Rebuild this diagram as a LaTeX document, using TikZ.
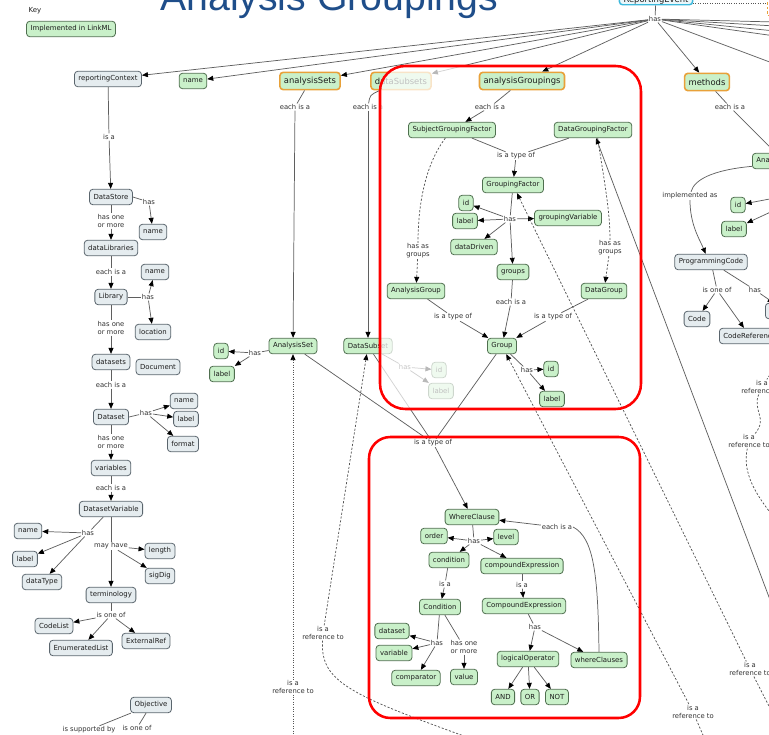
\documentclass[tikz,border=0pt]{standalone}
\usepackage{fontspec}
\usetikzlibrary{arrows.meta}
\newfontfamily\dv{DejaVu Sans}
\newfontfamily\lsans{Liberation Sans}
\definecolor{gfill}{HTML}{C9F0C9}
\definecolor{gbord}{HTML}{4F6F4F}
\definecolor{bfill}{HTML}{E5ECEF}
\definecolor{bbord}{HTML}{5A656D}
\definecolor{obord}{HTML}{E8A13A}
\definecolor{cyb}{HTML}{3DB9DC}
\definecolor{cyf}{HTML}{EAF7FB}
\definecolor{txt}{HTML}{1C1C1C}
\definecolor{lbt}{HTML}{333333}
\definecolor{lnc}{HTML}{5F5F5F}
\definecolor{dshc}{HTML}{555555}
\definecolor{ttl}{HTML}{1F4E8A}
\definecolor{boxred}{HTML}{FF0000}
\begin{document}
\begin{tikzpicture}[x=0.75pt,y=-0.75pt,
 nbase/.style={rounded corners=2.5pt, inner xsep=3pt, inner ysep=0pt, minimum height=11.6pt, line width=0.6pt, text=txt, font=\dv\fontsize{5.2}{6}\selectfont},
 gn/.style={nbase, draw=gbord, fill=gfill},
 bn/.style={nbase, draw=bbord, fill=bfill},
 on/.style={nbase, draw=obord, fill=gfill, line width=1.2pt, minimum height=13pt, font=\dv\fontsize{6.3}{7}\selectfont},
 lb/.style={font=\dv\fontsize{5.1}{6}\selectfont, text=lbt, inner sep=0.5pt, fill=white, align=center},
 ln/.style={draw=lnc, line width=0.55pt},
 ar/.style={ln, -{Triangle[length=4.5pt,width=3.7pt,color=black]}},
 dsh/.style={draw=dshc, line width=0.55pt, dash pattern=on 1.6pt off 1.3pt},
 dt/.style={draw=dshc, line width=0.6pt, dash pattern=on 0.6pt off 1.2pt},
 tipend/.style={-{Triangle[length=4.5pt,width=3.7pt,color=black]}},
 tipstart/.style={{Triangle[length=4.5pt,width=3.7pt,color=black]}-},
 redbox/.style={draw=boxred, line width=1.9pt},
]
\useasboundingbox (0,0) rectangle (769,735);
\clip (0,0) rectangle (769,735);

% ---------- title and key ----------
\node[anchor=base west, inner sep=0, font=\lsans\fontsize{29.4}{30}\selectfont, text=ttl] (title) at (160,11) {Analysis Groupings};
\node[font=\dv\fontsize{5.2}{6}\selectfont, text=txt, inner sep=0] (key) at (35,11) {Key};
\node[gn] (impl) at (71,29) {Implemented in LinkML};

% ---------- top ----------
\node[rounded corners=2.5pt, draw=cyb, fill=cyf, line width=1.1pt, inner xsep=3pt, inner ysep=0.6pt, text height=9pt, text depth=1.4pt, minimum width=55pt, text=txt, font=\dv\fontsize{6.3}{7}\selectfont, anchor=south] (RE) at (656,5.5) {ReportingEvent};
\node[draw=obord, dash pattern=on 2pt off 1.5pt, line width=0.8pt, minimum width=40pt, minimum height=14pt, anchor=west] (rbox) at (767,6) {};
\coordinate (rEnd) at (767,3);
\coordinate (reR) at (693,3);
\draw[dt] (reR) -- (rEnd);
\node[lb] (hasRE) at (655,19) {has};
\draw[ln] (RE) -- (hasRE);

% ---------- left column ----------
\node[bn] (rc) at (108,79) {reportingContext};
\node[gn] (nm1) at (193,81) {name};
\node[on] (aSets) at (310,81) {analysisSets};
\node[on] (meth) at (707,82) {methods};
\node[bn] (DSt) at (111,197) {DataStore};
\node[bn] (nm2) at (153,232) {name};
\node[bn] (dLib) at (111,248) {dataLibraries};
\node[bn] (Lib) at (111,297) {Library};
\node[bn] (nm3) at (155,272) {name};
\node[bn] (loc) at (153,332) {location};
\node[bn] (dsets) at (111,362) {datasets};
\node[bn] (doc) at (158,367) {Document};
\node[bn] (Dset) at (111,417) {Dataset};
\node[bn] (nm4) at (184,401) {name};
\node[bn] (lb4) at (186,419) {label};
\node[bn] (fmt) at (183,444) {format};
\node[bn] (vars) at (111,468) {variables};
\node[bn] (DVar) at (111,509) {DatasetVariable};
\node[bn] (nm5) at (28,531) {name};
\node[bn] (lb5) at (25,559) {label};
\node[bn] (dtype) at (42,582) {dataType};
\node[bn] (len) at (160,551) {length};
\node[bn] (sig) at (160,576) {sigDig};
\node[bn] (term) at (111,595) {terminology};
\node[bn] (CL) at (54,626) {CodeList};
\node[bn] (EL) at (81,648) {EnumeratedList};
\node[bn] (ER) at (146,641) {ExternalRef};
\node[bn] (Obj) at (151,705) {Objective};

\node[lb] (lisa1) at (109,137) {is a};
\node[lb] (lhas1) at (149,202) {has};
\node[lb] (lhom1) at (111,221) {has one\\or more};
\node[lb] (leia1) at (111,272) {each is a};
\node[lb] (lhas2) at (148,297) {has};
\node[lb] (lhom2) at (111,328) {has one\\or more};
\node[lb] (leia2) at (111,385) {each is a};
\node[lb] (lhas3) at (146,413) {has};
\node[lb] (lhom3) at (111,442) {has one\\or more};
\node[lb] (leia3) at (111,488) {each is a};
\node[lb] (lhas4) at (88,533) {has};
\node[lb] (lmay) at (111,546) {may have};
\node[lb] (liof1) at (111,615) {is one of};
\node[lb] (lisb) at (89,730) {is supported by};
\node[lb] (liof2) at (137,728) {is one of};

\draw[ln] (rc) -- (lisa1); \draw[ar] (lisa1) -- (DSt);
\draw[ln] (DSt.east) -- (lhas1); \draw[ar] (lhas1) -- (nm2);
\draw[ln] (DSt) -- (lhom1); \draw[ar] (lhom1) -- (dLib);
\draw[ln] (dLib) -- (leia1); \draw[ar] (leia1) -- (Lib);
\draw[ln] (Lib.east) -- (lhas2); \draw[ar] (lhas2) -- (nm3); \draw[ar] (lhas2) -- (loc);
\draw[ln] (Lib) -- (lhom2); \draw[ar] (lhom2) -- (dsets);
\draw[ln] (dsets) -- (leia2); \draw[ar] (leia2) -- (Dset);
\draw[ln] (Dset.east) -- (lhas3); \draw[ar] (lhas3) -- (nm4); \draw[ar] (lhas3) -- (lb4); \draw[ar] (lhas3) -- (fmt);
\draw[ln] (Dset) -- (lhom3); \draw[ar] (lhom3) -- (vars);
\draw[ln] (vars) -- (leia3); \draw[ar] (leia3) -- (DVar);
\draw[ln] (DVar) -- (lhas4); \draw[ar] (lhas4) -- (nm5); \draw[ar] (lhas4) -- (lb5); \draw[ar] (lhas4) -- (dtype);
\draw[ln] (DVar) -- (lmay); \draw[ar] (lmay) -- (len); \draw[ar] (lmay) -- (sig); \draw[ar] (lmay) -- (term);
\draw[ln] (term) -- (liof1); \draw[ar] (liof1) -- (CL); \draw[ar] (liof1) -- (EL); \draw[ar] (liof1) -- (ER);
\draw[ln] (Obj) -- (lisb); \draw[ln] (Obj) -- (liof2);

% ---------- middle (outside boxes) ----------
\node[gn] (ASet) at (293,346) {AnalysisSet};
\node[gn] (idAS) at (221,351) {id};
\node[gn] (lbAS) at (222,374) {label};
\node[lb] (lhasAS) at (255,353) {has};
\node[lb] (leiaS) at (295,107) {each is a};
\node[lb] (leiaD) at (368,107) {each is a};
\node[lb] (list) at (433,443) {is a type of};
\node[lb] (lrefAS) at (293,687) {is a\\reference to};
\node[lb] (lrefDS) at (323,633) {is a\\reference to};

% ---------- faded layer (under box 1) ----------
\node[on] (dSubs) at (401,81) {dataSubsets};
\node[gn] (DSub) at (368,346) {DataSubset};
\node[lb, fill=none] (lhasDS) at (405,367) {has};
\node[gn] (idDS) at (439,370) {id};
\node[gn] (lbDS) at (441,391) {label};
\draw[ar] (hasRE) -- (dSubs);
\draw[ln] (DSub) -- (lhasDS); \draw[ar] (lhasDS) -- (idDS); \draw[ar] (lhasDS) -- (lbDS);
\draw[ln] (DSub) -- (list);
\draw[ln] ([xshift=-16pt]dSubs.south) .. controls (370,95) .. (leiaD);
\draw[ar] (leiaD) -- (DSub);

% box 1 veil
\fill[white, fill opacity=0.72, rounded corners=19pt] (380,66) rectangle (641,409);

% ---------- group 1 ----------
\node[on] (aGrp) at (522,81) {analysisGroupings};
\node[lb] (leiaG) at (490,107) {each is a};
\node[gn] (SGF) at (452,130) {SubjectGroupingFactor};
\node[gn] (DGF) at (593,130) {DataGroupingFactor};
\node[lb] (list1) at (516,156) {is a type of};
\node[gn] (GF) at (513,185) {GroupingFactor};
\node[gn] (idGF) at (466,203) {id};
\node[gn] (lbGF) at (465,221) {label};
\node[gn] (dd) at (474,247) {dataDriven};
\node[gn] (gv) at (568,218) {groupingVariable};
\node[lb] (lhasGF) at (510,219) {has};
\node[gn] (grps) at (513,272) {groups};
\node[lb] (lhag1) at (418,251) {has as\\groups};
\node[lb] (lhag2) at (610,248) {has as\\groups};
\node[gn] (AG) at (416,291) {AnalysisGroup};
\node[gn] (DG) at (604,291) {DataGroup};
\node[lb] (leiaGr) at (511,302) {each is a};
\node[lb] (list2) at (453,317) {is a type of};
\node[lb] (list3) at (553,317) {is a type of};
\node[gn] (Grp) at (502,346) {Group};
\node[lb] (lhasGrp) at (527,370) {has};
\node[gn] (idGrp) at (551,369) {id};
\node[gn] (lbGrp) at (552,399) {label};

% ---------- group 2 ----------
\node[gn] (WC) at (472,517) {WhereClause};
\node[gn] (ord) at (434,536) {order};
\node[gn] (lev) at (506,537) {level};
\node[lb] (lhasWC) at (474,541) {has};
\node[gn] (cond) at (449,560) {condition};
\node[gn] (cExp) at (522,566) {compoundExpression};
\node[lb] (lisa2) at (445,584) {is a};
\node[lb] (lisa3) at (522,585) {is a};
\node[gn] (Cond) at (440,607) {Condition};
\node[gn] (CExp) at (524,606) {CompoundExpression};
\node[gn] (dset) at (392,631) {dataset};
\node[gn] (var) at (394,653) {variable};
\node[gn] (cmp) at (416,678) {comparator};
\node[gn] (val) at (464,677) {value};
\node[lb] (lhasC) at (437,643) {has};
\node[lb] (lhomC) at (464,647) {has one\\or more};
\node[lb] (lhasCE) at (535,627) {has};
\node[gn] (lop) at (528,659) {logicalOperator};
\node[gn] (wcs) at (599,660) {whereClauses};
\node[gn] (AND) at (503,697) {AND};
\node[gn] (OR) at (530,697) {OR};
\node[gn] (NOT) at (557,697) {NOT};
\node[lb] (leiaW) at (557,527) {each is a};

% ---------- right column ----------
\node[gn, anchor=west] (Ana) at (752,161) {AnalysisMethod};
\node[lb] (leiaM) at (730,107) {each is a};
\node[lb] (limpl) at (690,196) {implemented as};
\node[gn] (idM) at (738,205) {id};
\node[gn] (lbM) at (734,229) {label};
\node[bn] (PC) at (711,262) {ProgrammingCode};
\node[lb] (liofP) at (717,290) {is one of};
\node[lb] (lhasP) at (755,290) {has};
\node[bn] (Code) at (697,319) {Code};
\node[bn, anchor=west] (CR) at (719,336) {CodeReference};
\node[bn, anchor=west, minimum width=30pt] (rn) at (765,311) {};
\node[lb] (lref1) at (762,387) {is a\\reference to};
\node[lb] (lref2) at (749,441) {is a\\reference to};
\node[lb] (lref3) at (750,669) {is a\\reference to};
\node[lb] (lref4) at (693,712) {is a\\reference to};

% ---------- fan from ReportingEvent ----------
\draw[ar] (hasRE) -- (rc);
\draw[ar] (hasRE) -- (nm1);
\draw[ar] (hasRE) -- (aSets);
\draw[ar] (hasRE) -- (aGrp);
\draw[ar] (hasRE) -- (meth);
\coordinate (f1) at (775,22); \coordinate (f2) at (775,26);
\coordinate (f3) at (775,31); \coordinate (f4) at (775,36);
\coordinate (f5) at (775,64);
\foreach \f in {f1,f2,f3,f4,f5} { \draw[ln] (hasRE) -- (\f); }

% ---------- middle connectors ----------
\draw[ln] (aSets) -- (leiaS); \draw[ar] (leiaS) -- (ASet);
\draw[ln] (ASet) -- (lhasAS); \draw[ar] (lhasAS) -- (idAS); \draw[ar] (lhasAS) -- (lbAS);
\draw[ln] (ASet) -- (list);
\draw[ln] (Grp) -- (list);
\draw[ar] (list) -- (WC);
\draw[dt, tipstart] (ASet) -- (lrefAS);
\coordinate (dtEnd) at (293,745);
\draw[dt] (lrefAS) -- (dtEnd);
\draw[dsh, tipstart] (DSub) -- (lrefDS);
\coordinate (dsEnd) at (475,740);
\draw[dsh] (lrefDS) .. controls (320,682) and (350,695) .. (dsEnd);

% ---------- group 1 connectors ----------
\draw[ln] (aGrp) -- (leiaG); \draw[ar] (leiaG) -- (SGF);
\draw[ln] (SGF) -- (list1); \draw[ln] (DGF) -- (list1); \draw[ar] (list1) -- (GF);
\draw[ln] (GF) -- (lhasGF);
\draw[ar] (lhasGF) -- (idGF); \draw[ar] (lhasGF) -- (lbGF); \draw[ar] (lhasGF) -- (dd);
\draw[ar] (lhasGF) -- (gv); \draw[ar] (lhasGF) -- (grps);
\draw[dsh] ([xshift=-5pt]SGF.south) .. controls (425,165) and (418,205) .. (lhag1);
\draw[dsh, tipend] (lhag1) -- (AG);
\draw[dsh] ([xshift=3.5pt]DGF.south) .. controls (604,180) and (610,210) .. (lhag2);
\draw[dsh, tipend] (lhag2) -- (DG);
\draw[ln] (grps) -- (leiaGr); \draw[ar] (leiaGr) -- (Grp);
\draw[ln] (AG) -- (list2); \draw[ar] (list2) -- (Grp);
\draw[ln] (DG) -- (list3); \draw[ar] (list3) -- (Grp);
\draw[ln] (Grp) -- (lhasGrp); \draw[ar] (lhasGrp) -- (idGrp); \draw[ar] (lhasGrp) -- (lbGrp);

% long links from the right
\coordinate (dgfSrc) at (775,613);
\draw[ar] (dgfSrc) -- (DGF);
\draw[dsh, tipstart] (GF) -- (lref3);
\coordinate (r3End) at (772,712);
\draw[dsh] (lref3) -- (r3End);
\draw[dsh, tipstart] (Grp) -- (lref4);
\coordinate (r4End) at (706,742);
\draw[dsh] (lref4) -- (r4End);
\coordinate (r1Src) at (778,362);
\draw[dsh] (r1Src) -- (lref1);
\draw[dsh] (lref1) .. controls (752,410) and (768,418) .. (lref2);
\coordinate (r2End) at (778,522);
\draw[dsh] (lref2) .. controls (742,472) and (755,495) .. (r2End);

% ---------- group 2 connectors ----------
\draw[ln] (WC) -- (lhasWC);
\draw[ar] (lhasWC) -- (ord); \draw[ar] (lhasWC) -- (lev);
\draw[ar] (lhasWC) -- (cond); \draw[ar] (lhasWC) -- (cExp);
\draw[ln] (cond) -- (lisa2); \draw[ar] (lisa2) -- (Cond);
\draw[ln] (cExp) -- (lisa3); \draw[ar] (lisa3) -- (CExp);
\draw[ln] (Cond) -- (lhasC);
\draw[ar] (lhasC) -- (dset); \draw[ar] (lhasC) -- (var); \draw[ar] (lhasC) -- (cmp);
\draw[ln] (Cond) -- (lhomC); \draw[ar] (lhomC) -- (val);
\draw[ln] (CExp) -- (lhasCE); \draw[ar] (lhasCE) -- (lop); \draw[ar] (lhasCE) -- (wcs);
\draw[ar] (lop) -- (AND); \draw[ar] (lop) -- (OR); \draw[ar] (lop) -- (NOT);
\draw[ln] (wcs.north) .. controls (598,575) and (594,538) .. (leiaW.east);
\draw[ar] (leiaW) -- (WC);

% ---------- right connectors ----------
\draw[ln] (meth) -- (leiaM); \draw[ar] (leiaM) -- (Ana);
\draw[ln] ([yshift=-4pt]Ana.west) .. controls (712,170) and (694,180) .. (limpl);
\draw[ar] (limpl) .. controls (690,225) and (700,240) .. ([xshift=-4pt]PC.north);
\coordinate (idSrc) at (775,198); \coordinate (lbSrc) at (775,210);
\draw[ar] (idSrc) -- (idM); \draw[ar] (lbSrc) -- (lbM);
\draw[ln] (PC) -- (liofP); \draw[ar] (liofP) -- (Code); \draw[ar] (liofP) -- (CR);
\draw[ln] (PC) -- (lhasP); \draw[ar] (lhasP) -- (rn);

% ---------- red boxes ----------
\draw[redbox, rounded corners=19pt] (380,66) rectangle (641,409);
\draw[redbox, rounded corners=16pt] (369,437) rectangle (640,718);
\end{tikzpicture}
\end{document}
